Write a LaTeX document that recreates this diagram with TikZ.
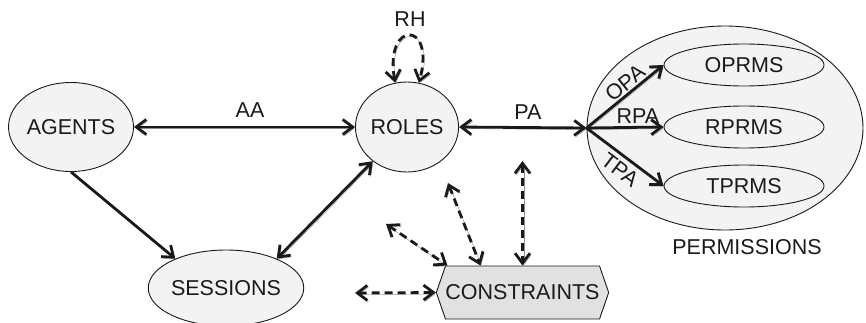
\documentclass[tikz,border=0pt]{standalone}
\usepackage{fontspec}
\setmainfont{Liberation Sans}
\usetikzlibrary{arrows.meta,shapes.geometric,shapes.symbols}
\definecolor{ink}{HTML}{1A1A1A}
\definecolor{bubble}{HTML}{F3F3F3}
\definecolor{boxfill}{HTML}{E1E1E1}
\definecolor{shade}{HTML}{8C8C8C}
\begin{document}
\begin{tikzpicture}[x=1pt,y=-1pt,
  every node/.style={text=ink,font=\fontsize{21.5}{25}\selectfont},
  entity/.style={ellipse,draw=ink,line width=0.9pt,fill=bubble,inner sep=0pt},
  lbl/.style={inner sep=0pt},
  barb/.tip={Straight Barb[length=10pt,width=15pt]},
  shadowed/.style={preaction={draw=shade,transform canvas={shift={(1.3pt,-1.6pt)}}}},
  link/.style={draw=ink,line width=2.8pt,shadowed},
  dlink/.style={draw=ink,line width=2.8pt,dash pattern=on 8pt off 5pt,shadowed}]
\useasboundingbox (0,0) rectangle (866,322);

% entities
\node[entity,minimum width=124pt,minimum height=89pt] (agents) at (71,127) {AGENTS};
\node[entity,minimum width=100pt,minimum height=90pt] (roles) at (407,127) {ROLES};
\node[entity,minimum width=146pt,minimum height=76pt] (sessions) at (226,288) {SESSIONS};

% permissions group
\node[entity,minimum width=276pt,minimum height=204pt] (perm) at (725,128) {};
\node[entity,minimum width=160pt,minimum height=42pt] (oprms) at (744,65) {OPRMS};
\node[entity,minimum width=160pt,minimum height=42pt] (rprms) at (744,127) {RPRMS};
\node[entity,minimum width=160pt,minimum height=42pt] (tprms) at (744,186) {TPRMS};
\node[lbl] (permlbl) at (747,247) {PERMISSIONS};

% constraints
\node[signal,signal to=west and east,signal pointer angle=142,draw=ink,line width=0.9pt,
      fill=boxfill,inner sep=0pt,minimum width=169pt,minimum height=53pt] (cons) at (522.5,292.5) {CONSTRAINTS};

% assignments
\draw[link,barb-barb] (agents.east) -- (roles.west);
\node[lbl] (aa) at (250,110) {AA};
\draw[link,barb-barb] (roles.east) -- (perm.west);
\node[lbl] (pa) at (528,112) {PA};
\draw[link,-barb] (agents.south) -- (sessions.150);
\draw[link,barb-barb] (sessions.30) -- (roles.225);

% permission branches
\draw[link,-barb] (perm.west) -- (oprms.west);
\draw[link,-barb] (perm.west) -- (rprms.west);
\draw[link,-barb] (perm.west) -- (tprms.west);
\node[lbl,rotate=39] (opa) at (625,83) {OPA};
\node[lbl] (rpa) at (638,116) {RPA};
\node[lbl,rotate=-37] (tpa) at (620,170) {TPA};

% role hierarchy
\draw[dlink,barb-barb]
  (roles.105) .. controls (384,20) and (436,20) .. (roles.75);
\node[lbl] (rh) at (410,19) {RH};

% constraint links
\coordinate (c1) at (355,293);
\coordinate (c2) at (386,224);
\coordinate (c3) at (448,183);
\coordinate (c4) at (522.5,161);
\draw[dlink,barb-barb] (c1) -- (cons.west);
\draw[dlink,barb-barb] (c2) -- ([xshift=-75pt]cons.north);
\draw[dlink,barb-barb] (c3) -- ([xshift=-42pt]cons.north);
\draw[dlink,barb-barb] (c4) -- (cons.north);
\end{tikzpicture}
\end{document}
